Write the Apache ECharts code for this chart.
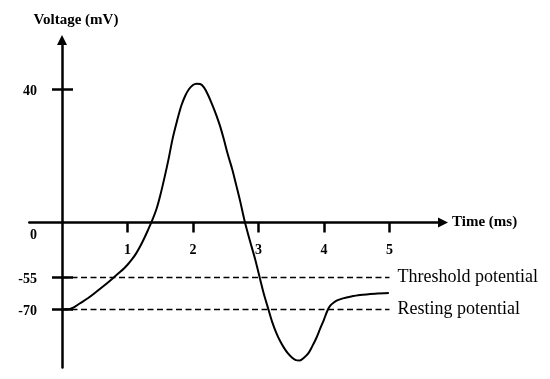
<!DOCTYPE html>
<html>
<head>
<meta charset="utf-8">
<script src="https://cdn.jsdelivr.net/npm/echarts@6/dist/echarts.min.js"></script>
<style>html,body{margin:0;padding:0;background:#fff}#c{width:550px;height:379px}</style>
</head>
<body>
<div id="c"></div>
<script>
// ---- data (time in ms, membrane voltage in mV) ----
const timeMs = [0, 0.06, 0.12, 0.18, 0.27, 0.40, 0.52, 0.64, 0.76, 0.85, 0.95, 1.01, 1.07, 1.13, 1.19, 1.25, 1.31, 1.37, 1.44, 1.50, 1.57, 1.63, 1.69, 1.76, 1.82, 1.88, 1.94, 2.00, 2.05, 2.11, 2.17, 2.23, 2.29, 2.35, 2.41, 2.47, 2.53, 2.60, 2.66, 2.72, 2.79, 2.87, 2.95, 3.02, 3.08, 3.15, 3.21, 3.27, 3.33, 3.39, 3.45, 3.51, 3.57, 3.63, 3.69, 3.76, 3.82, 3.88, 3.94, 4.00, 4.05, 4.09, 4.15, 4.21, 4.29, 4.40, 4.55, 4.78, 4.99];
const voltageMv = [-70.0, -69.9, -69.7, -69.0, -67.2, -64.6, -61.8, -58.9, -55.8, -51.5, -45.7, -41.5, -36.7, -31.1, -24.3, -16.5, -8.0, 0.3, 3.9, 8.1, 13.9, 19.3, 25.2, 30.7, 34.9, 37.9, 40.0, 41.2, 41.6, 41.5, 40.4, 38.2, 35.5, 32.5, 29.1, 25.0, 20.5, 15.9, 11.2, 6.4, 0.3, -18.5, -37, -55.2, -62.5, -69.8, -75.9, -80.8, -84.8, -88.0, -90.6, -92.5, -93.7, -93.9, -92.7, -90.6, -87.3, -83.6, -79.1, -74.7, -70.7, -68.4, -66.7, -65.6, -64.8, -64.0, -63.2, -62.6, -62.3];
const thresholdMv = -55;
const restingMv = -70;
const refLineSpanMs = [0, 5];
const xTickValues = [1, 2, 3, 4, 5];
const yTickMv = [40, -55, -70];
const yLabelMv = [40, 0, -55, -70];

// schematic (broken) voltage scale used by the original drawing
function toAxis(v) {
  if (v >= 0) return v * 3.3375;
  if (v >= -55) return v;
  return -55 + (v + 55) * 32 / 15;
}

const curve = timeMs.map((t, i) => [t, toAxis(voltageMv[i])]);
const threshold = refLineSpanMs.map(t => [t, toAxis(thresholdMv)]);
const resting = refLineSpanMs.map(t => [t, toAxis(restingMv)]);

const SERIF = '"Liberation Serif", "Times New Roman", serif';
const chart = echarts.init(document.getElementById('c'), null, { renderer: 'canvas' });

const X_MIN = -0.5, X_MAX = 5.817, Y_MIN = -145, Y_MAX = 182.5;
const GRID = { left: 29.25, right: 107, top: 40, bottom: 11.5 };
const gridW = 550 - GRID.left - GRID.right, gridH = 379 - GRID.top - GRID.bottom;
// place the axes through the origin (x = 0 ms, y = 0 mV)
const yAxisOffset = -(0 - X_MIN) / (X_MAX - X_MIN) * gridW;
const xAxisOffset = -(0 - Y_MIN) / (Y_MAX - Y_MIN) * gridH;

const lblVals = yLabelMv.map(toAxis);
chart.setOption({
  animation: false,
  backgroundColor: '#fff',
  grid: Object.assign({ containLabel: false, outerBoundsMode: 'none' }, GRID),
  xAxis: {
    type: 'value', min: X_MIN, max: X_MAX, position: 'bottom', offset: xAxisOffset,
    name: 'Time (ms)', nameLocation: 'end', nameGap: 9,
    nameTextStyle: { fontFamily: SERIF, fontWeight: 'bold', fontSize: 15, color: '#000', verticalAlign: 'middle' },
    axisLine: { show: true, onZero: false, symbol: ['none', 'triangle'], symbolSize: [10, 10], lineStyle: { color: '#000', width: 2.5 } },
    axisTick: { show: true, inside: false, length: 10, customValues: xTickValues, lineStyle: { color: '#000', width: 2.5 } },
    axisLabel: { show: true, customValues: xTickValues, margin: 21, fontFamily: SERIF, fontWeight: 'bold', fontSize: 14, color: '#000' },
    splitLine: { show: false }
  },
  yAxis: [{
    type: 'value', min: Y_MIN, max: Y_MAX, position: 'left', offset: yAxisOffset,
    name: 'Voltage (mV)', nameLocation: 'end', nameGap: 12,
    nameTextStyle: { fontFamily: SERIF, fontWeight: 'bold', fontSize: 15, color: '#000', padding: [0, 0, 0, 28] },
    axisLine: { show: true, onZero: false, symbol: ['none', 'triangle'], symbolSize: [10, 10], lineStyle: { color: '#000', width: 2.5 } },
    axisTick: { show: true, inside: false, length: 10, customValues: yTickMv.map(toAxis), lineStyle: { color: '#000', width: 2.5 } },
    axisLabel: {
      show: true, customValues: lblVals, margin: 25,
      fontFamily: SERIF, fontWeight: 'bold', fontSize: 14, color: '#000',
      formatter: function (val) {
        let best = 0, bd = Infinity;
        lblVals.forEach((lv, i) => { const d = Math.abs(lv - val); if (d < bd) { bd = d; best = i; } });
        const mv = yLabelMv[best];
        return mv === 0 ? '{z|0}' : '{n|' + mv + '}';
      },
      rich: {
        z: { fontFamily: SERIF, fontWeight: 'bold', fontSize: 14, color: '#000', padding: [25, 0, 0, 0] },
        n: { fontFamily: SERIF, fontWeight: 'bold', fontSize: 14, color: '#000', padding: [4, 0, 0, 0] }
      }
    },
    splitLine: { show: false }
  }, {
    type: 'value', min: Y_MIN, max: Y_MAX, position: 'left', offset: yAxisOffset,
    axisLine: { show: false, onZero: false },
    axisTick: { show: true, inside: true, length: 11, customValues: yTickMv.map(toAxis), lineStyle: { color: '#000', width: 2.5 } },
    axisLabel: { show: false },
    splitLine: { show: false }
  }],
  series: [{
    name: 'Membrane potential', type: 'line', data: curve,
    showSymbol: false, smooth: 0.3,
    lineStyle: { color: '#000', width: 2 }, z: 5
  }, {
    name: 'Threshold potential', type: 'line', data: threshold, showSymbol: false,
    lineStyle: { color: '#000', width: 1.5, type: [6, 3.5] },
    endLabel: { show: true, formatter: '{a}', distance: 8, fontFamily: SERIF, fontSize: 18, color: '#000' }
  }, {
    name: 'Resting potential', type: 'line', data: resting, showSymbol: false,
    lineStyle: { color: '#000', width: 1.5, type: [6, 3.5] },
    endLabel: { show: true, formatter: '{a}', distance: 8, fontFamily: SERIF, fontSize: 18, color: '#000' }
  }]
});
</script>
</body>
</html>
